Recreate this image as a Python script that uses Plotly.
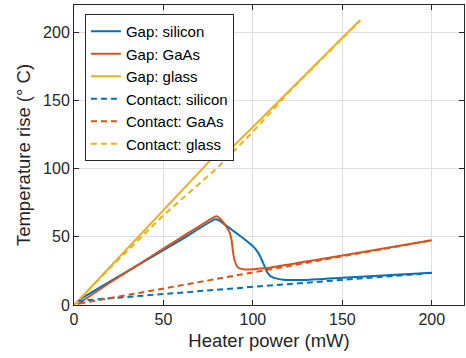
import plotly.graph_objects as go

# Gap curves
si_gap_x = [3, 20, 40, 60, 78.8, 80.5, 84, 88, 92, 96, 99, 101.5, 103.5, 105, 106.5, 108, 110, 113, 117, 121, 130, 150, 175, 200]
si_gap_y = [4, 17.2, 32.6, 48, 62.8, 62.5, 59.3, 55.4, 51.5, 47.5, 44.3, 41, 37, 33, 28.5, 24, 21, 19.5, 18.6, 18.3, 18.4, 19.9, 21.8, 23.6]

gaas_gap_x = [2, 20, 40, 60, 78, 79.7, 81.6, 85.3, 87.2, 88.1, 89, 90, 91.8, 95.5, 100.5, 107.6, 126.3, 150, 200]
gaas_gap_y = [0.5, 16.3, 33, 49.6, 64.3, 65.1, 63.4, 57.3, 52.4, 47.5, 37.8, 31.7, 27.3, 26.1, 26.3, 27.1, 31.1, 36.3, 47.5]

glass_gap_x = [0, 3, 80, 81, 83, 100, 160]
glass_gap_y = [0, 4, 111.4, 110.5, 108.5, 130.5, 209]

# Contact curves
si_con_x = [2, 50, 100, 150, 200]
si_con_y = [3, 8.2, 13.3, 18.4, 23.5]

gaas_con_x = [3, 50, 100, 150, 200]
gaas_con_y = [1, 12.2, 24, 35.8, 47.5]

glass_con_x = [0, 20, 50, 80, 100, 110, 120, 140, 160]
glass_con_y = [0, 27, 65.8, 100.5, 127, 141.5, 156, 182.5, 208.5]

names = ["Gap: silicon", "Gap: GaAs", "Gap: glass",
         "Contact: silicon", "Contact: GaAs", "Contact: glass"]
colors = ["#0072BD", "#D95319", "#EDB120"]

series = [
    (si_gap_x, si_gap_y), (gaas_gap_x, gaas_gap_y), (glass_gap_x, glass_gap_y),
    (si_con_x, si_con_y), (gaas_con_x, gaas_con_y), (glass_con_x, glass_con_y),
]

fig = go.Figure()
for i, (xs, ys) in enumerate(series):
    fig.add_trace(go.Scatter(
        x=xs, y=ys, mode="lines", name=names[i],
        line=dict(color=colors[i % 3], width=2,
                  dash="solid" if i < 3 else "6px,4px",
                  shape="spline" if i in (0, 1) else "linear", smoothing=0.5),
    ))

axis_common = dict(
    showgrid=True, gridcolor="#DFDFDF", gridwidth=1,
    showline=True, linecolor="#262626", linewidth=1, mirror="ticks",
    ticks="inside", ticklen=5, tickcolor="#262626",
    tickfont=dict(size=16, color="#262626"),
    zeroline=False, automargin=True,
)

fig.update_layout(
    width=466, height=358,
    margin=dict(l=74, r=2, t=5, b=53),
    paper_bgcolor="white", plot_bgcolor="white",
    font=dict(family="Liberation Sans, Arial, sans-serif", color="#262626"),
    xaxis=dict(range=[0, 218], tickvals=[0, 50, 100, 150, 200],
               title=dict(text="Heater power (mW)", font=dict(size=18.5), standoff=6),
               **axis_common),
    yaxis=dict(range=[0, 220], tickvals=[0, 50, 100, 150, 200],
               title=dict(text="Temperature rise (° C)", font=dict(size=18.5), standoff=7),
               **axis_common),
    legend=dict(x=0.028, y=0.97, xanchor="left", yanchor="top",
                bgcolor="white", bordercolor="#262626", borderwidth=1,
                font=dict(size=15, color="#000000"),
                tracegroupgap=0, itemwidth=30),
    showlegend=True,
)

fig.write_html("out.html", config={"displayModeBar": False},
               post_script="document.body.style.margin='0px';")
